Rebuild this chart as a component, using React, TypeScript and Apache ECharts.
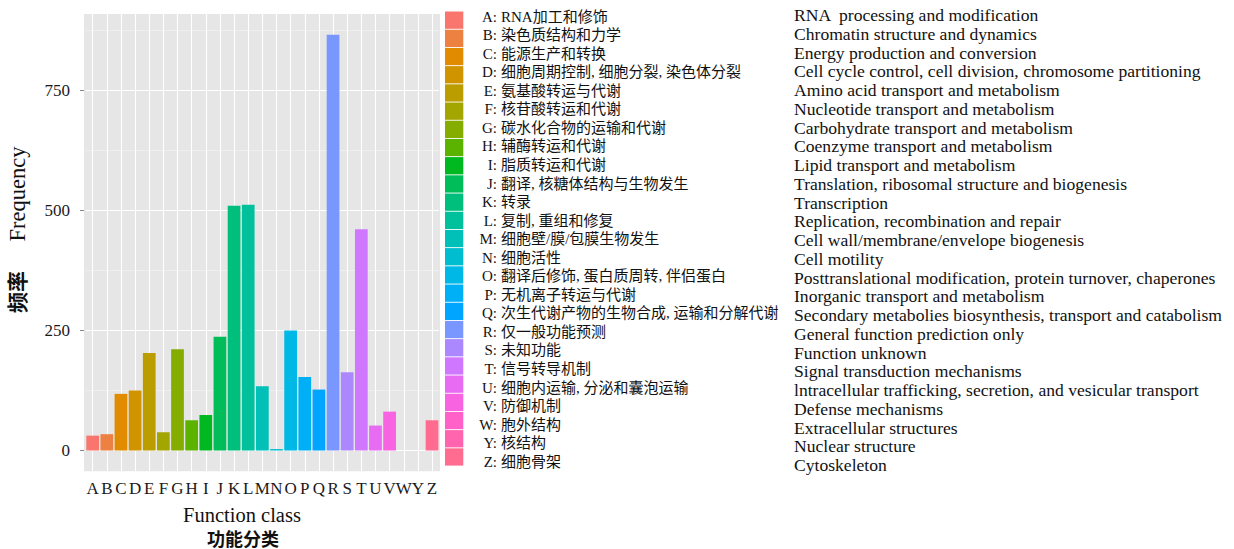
import React, { useEffect, useRef } from "react";
import * as echarts from "echarts";

const categories = ["A","B","C","D","E","F","G","H","I","J","K","L","M","N","O","P","Q","R","S","T","U","V","W","Y","Z"];
const frequency = [31, 34, 118, 125, 203, 38, 211, 63, 74, 237, 510, 512, 134, 3, 250, 153, 127, 866, 163, 461, 52, 81, 0, 0, 63];
const cnNames = [
  "RNA加工和修饰",
  "染色质结构和力学",
  "能源生产和转换",
  "细胞周期控制, 细胞分裂, 染色体分裂",
  "氨基酸转运与代谢",
  "核苷酸转运和代谢",
  "碳水化合物的运输和代谢",
  "辅酶转运和代谢",
  "脂质转运和代谢",
  "翻译, 核糖体结构与生物发生",
  "转录",
  "复制, 重组和修复",
  "细胞壁/膜/包膜生物发生",
  "细胞活性",
  "翻译后修饰, 蛋白质周转, 伴侣蛋白",
  "无机离子转运与代谢",
  "次生代谢产物的生物合成, 运输和分解代谢",
  "仅一般功能预测",
  "未知功能",
  "信号转导机制",
  "细胞内运输, 分泌和囊泡运输",
  "防御机制",
  "胞外结构",
  "核结构",
  "细胞骨架",
];
const enNames = [
  "RNA  processing and modification",
  "Chromatin structure and dynamics",
  "Energy production and conversion",
  "Cell cycle control, cell division, chromosome partitioning",
  "Amino acid transport and metabolism",
  "Nucleotide transport and metabolism",
  "Carbohydrate transport and metabolism",
  "Coenzyme transport and metabolism",
  "Lipid transport and metabolism",
  "Translation, ribosomal structure and biogenesis",
  "Transcription",
  "Replication, recombination and repair",
  "Cell wall/membrane/envelope biogenesis",
  "Cell motility",
  "Posttranslational modification, protein turnover, chaperones",
  "Inorganic transport and metabolism",
  "Secondary metabolies biosynthesis, transport and catabolism",
  "General function prediction only",
  "Function unknown",
  "Signal transduction mechanisms",
  "lntracellular trafficking, secretion, and vesicular transport",
  "Defense mechanisms",
  "Extracellular structures",
  "Nuclear structure",
  "Cytoskeleton",
];
const yTicks = [0, 250, 500, 750];
const yMinorTicks = [125, 375, 625, 875];
const yTitle = "Frequency";
const yTitleCn = "频率";
const xTitle = "Function class";
const xTitleCn = "功能分类";

const SERIF = "'Liberation Serif', 'Noto Sans CJK SC', serif";

function hclToHex(h: number, c: number, l: number): string {
  const hr = (h * Math.PI) / 180;
  const U = c * Math.cos(hr);
  const V = c * Math.sin(hr);
  const Xn = 95.047, Yn = 100, Zn = 108.883;
  const den = Xn + 15 * Yn + 3 * Zn;
  const un = (4 * Xn) / den;
  const vn = (9 * Yn) / den;
  const Y = l > 8 ? Yn * Math.pow((l + 16) / 116, 3) : (Yn * l) / 903.3;
  const up = U / (13 * l) + un;
  const vp = V / (13 * l) + vn;
  const X = (9 * Y * up) / (4 * vp);
  const Z = -X / 3 - 5 * Y + (3 * Y) / vp;
  const lin = [
    3.240479 * X - 1.53715 * Y - 0.498535 * Z,
    -0.969256 * X + 1.875992 * Y + 0.041556 * Z,
    0.055648 * X - 0.204043 * Y + 1.057311 * Z,
  ].map((v) => v / 100);
  const g = lin.map((v) => {
    const s = v <= 0.0031308 ? 12.92 * v : 1.055 * Math.pow(v, 1 / 2.4) - 0.055;
    const k = Math.round(Math.min(1, Math.max(0, s)) * 255);
    return k.toString(16).padStart(2, "0");
  });
  return "#" + g.join("");
}

// ggplot2 default hue palette (hues 15..375 minus one step, c=100, l=65)
const n = categories.length;
const hueStep = (360 - 360 / n) / (n - 1);
const colors = categories.map((_, i) => hclToHex(15 + i * hueStep, 100, 65));

export default function App() {
  const ref = useRef<HTMLDivElement>(null);
  useEffect(() => {
    if (!ref.current) return;
    const chart = echarts.init(ref.current, undefined, { renderer: "svg" });

    const legendEls: any[] = [];
    categories.forEach((c, i) => {
      legendEls.push({
        type: "rect",
        shape: { x: 445, y: 11.5 + i * 18.2, width: 18.3, height: 17.3 },
        style: { fill: colors[i] },
      });
      legendEls.push({
        type: "text",
        x: 497,
        y: 16.7 + i * 18.54,
        style: { text: c + ":", align: "right", verticalAlign: "middle", font: `15px ${SERIF}`, fill: "#111" },
      });
      legendEls.push({
        type: "text",
        x: 501,
        y: 16.7 + i * 18.54,
        style: { text: cnNames[i], align: "left", verticalAlign: "middle", font: `15px ${SERIF}`, fill: "#111" },
      });
      legendEls.push({
        type: "text",
        x: 794,
        y: 15 + i * 18.75,
        style: { text: enNames[i], align: "left", verticalAlign: "middle", font: `17.6px ${SERIF}`, fill: "#111" },
      });
    });

    const option: any = {
      animation: false,
      backgroundColor: "#ffffff",
      grid: { left: 85.6, top: 14, width: 353.5, height: 457.3, containLabel: false },
      xAxis: {
        type: "category",
        data: categories,
        axisLine: { show: false },
        axisTick: { show: true, alignWithLabel: true, length: 4, lineStyle: { color: "#888", width: 1 } },
        axisLabel: { interval: 0, margin: 9, fontSize: 17, fontFamily: SERIF, color: "#1a1a1a" },
        splitLine: { show: false },
      },
      yAxis: {
        type: "value",
        min: -43.3,
        max: 909.3,
        offset: 1.6,
        axisLine: { show: false },
        axisTick: { show: true, length: 4, customValues: yTicks, lineStyle: { color: "#888", width: 1 } },
        axisLabel: { customValues: yTicks, margin: 14, fontSize: 17, fontFamily: SERIF, color: "#1a1a1a" },
        splitLine: { show: false },
      },
      series: [
        {
          type: "bar",
          barWidth: "90%",
          z: 2,
          data: frequency.map((v, i) => ({ value: v, itemStyle: { color: colors[i] } })),
          markLine: {
            z: 1,
            silent: true,
            symbol: ["none", "none"],
            label: { show: false },
            emphasis: { disabled: true },
            lineStyle: { color: "#ffffff", type: "solid", width: 1.1 },
            data: [
              ...yTicks.map((v) => ({ yAxis: v, lineStyle: { color: "#ffffff", type: "solid", width: 1.2 } })),
              ...yMinorTicks.map((v) => ({ yAxis: v, lineStyle: { color: "#f5f5f5", type: "solid", width: 0.6 } })),
              ...categories.map((c) => ({ xAxis: c, lineStyle: { color: "#ffffff", type: "solid", width: 1.1 } })),
            ],
          },
        },
      ],
      graphic: {
        elements: [
          {
            type: "rect",
            z: -10,
            shape: { x: 84, y: 14, width: 356, height: 457.3 },
            style: { fill: "#e6e6e6" },
          },
          {
            type: "text",
            x: 17,
            y: 194,
            rotation: Math.PI / 2,
            style: { text: yTitle, align: "center", verticalAlign: "middle", font: `22.5px ${SERIF}`, fill: "#111" },
          },
          {
            type: "text",
            x: 18,
            y: 292,
            rotation: Math.PI / 2,
            style: { text: yTitleCn, align: "center", verticalAlign: "middle", font: `bold 21px ${SERIF}`, fill: "#111" },
          },
          {
            type: "text",
            x: 242,
            y: 515,
            style: { text: xTitle, align: "center", verticalAlign: "middle", font: `20.5px ${SERIF}`, fill: "#111" },
          },
          {
            type: "text",
            x: 243,
            y: 539.5,
            style: { text: xTitleCn, align: "center", verticalAlign: "middle", font: `bold 18px ${SERIF}`, fill: "#111" },
          },
          ...legendEls,
        ],
      },
    };
    chart.setOption(option);
    return () => chart.dispose();
  }, []);
  return <div ref={ref} style={{ position: "fixed", left: 0, top: 0, width: 1234, height: 549 }} />;
}
